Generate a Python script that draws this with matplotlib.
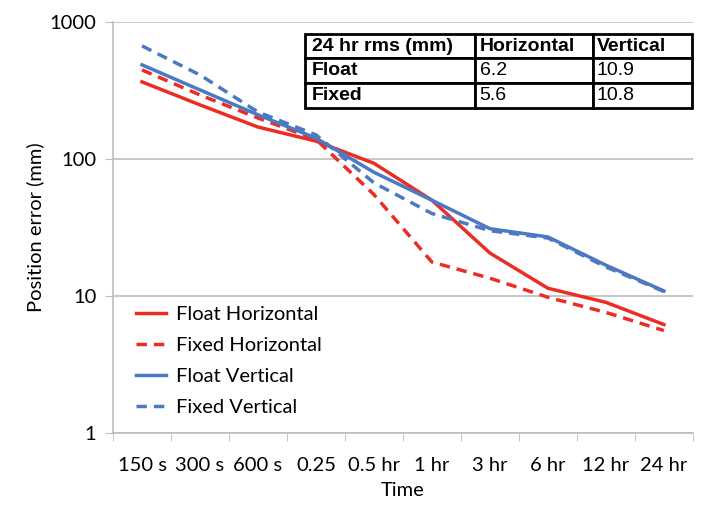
import numpy as np
import matplotlib
matplotlib.use("Agg")
import matplotlib.pyplot as plt

# ── data ──────────────────────────────────────────────
times = ["150 s", "300 s", "600 s", "0.25", "0.5 hr", "1 hr",
         "3 hr", "6 hr", "12 hr", "24 hr"]
float_h = [365, 248, 171, 135, 93, 50, 20.6, 11.4, 9.0, 6.2]
fixed_h = [446, 293, 199, 139, 55, 17.7, 13.5, 9.8, 7.6, 5.6]
float_v = [486, 319, 210, 142, 80, 50, 31, 27, 16.8, 10.9]
fixed_v = [668, 410, 220, 150, 67, 40, 30, 26.5, 16.3, 10.8]

table_rows = [["24 hr rms (mm)", "Horizontal", "Vertical"],
              ["Float", "6.2", "10.9"],
              ["Fixed", "5.6", "10.8"]]

RED = "#EC2D24"
BLUE = "#4C79C4"
GRID = "#BDBDBD"
FS = 14.5

plt.rcParams["font.family"] = ["Lato", "DejaVu Sans"]

fig = plt.figure(figsize=(7.02, 5.09), dpi=100)
ax = fig.add_axes([0.161, 0.149, 0.826, 0.808])

x = np.arange(len(times))
ax.plot(x, float_h, color=RED, lw=2.5, label="Float Horizontal")
ax.plot(x, fixed_h, color=RED, lw=2.5, ls=(0, (3, 2)), label="Fixed Horizontal")
ax.plot(x, float_v, color=BLUE, lw=2.5, label="Float Vertical")
ax.plot(x, fixed_v, color=BLUE, lw=2.5, ls=(0, (3, 2)), label="Fixed Vertical")

ax.set_yscale("log")
ax.set_ylim(1, 1000)
ax.set_xlim(-0.5, len(times) - 0.5)
ax.set_yticks([1, 10, 100, 1000])
ax.set_yticklabels(["1", "10", "100", "1000"], fontsize=FS)
ax.yaxis.set_minor_locator(matplotlib.ticker.NullLocator())
ax.tick_params(axis="y", length=6, color=GRID, pad=6)

ax.set_xticks(x)
ax.set_xticklabels(times, fontsize=FS)
ax.set_xticks(np.arange(-0.5, len(times)), minor=True)
ax.tick_params(axis="x", which="major", length=0, pad=17)
ax.tick_params(axis="x", which="minor", length=6, color=GRID)

ax.grid(True, axis="y", color=GRID, lw=1.2)
for s in ["top", "right"]:
    ax.spines[s].set_visible(False)
for s in ["left", "bottom"]:
    ax.spines[s].set_color(GRID)
    ax.spines[s].set_linewidth(1.2)

ax.set_xlabel("Time", fontsize=FS, labelpad=6)
ax.set_ylabel("Position error (mm)", fontsize=FS, labelpad=4)

ax.legend(loc="upper left", bbox_to_anchor=(0.025, 0.33), frameon=False,
          fontsize=FS, handlelength=1.5, handletextpad=0.5,
          labelspacing=0.7, borderaxespad=0.0)

tbl = ax.table(cellText=table_rows, cellLoc="left",
               colWidths=[170, 118, 99],
               bbox=[0.331, 0.791, 0.667, 0.18])
tbl.auto_set_font_size(False)
for (r, c), cell in tbl.get_celld().items():
    cell.set_linewidth(2)
    cell.set_edgecolor("black")
    cell.PAD = 0.04
    txt = cell.get_text()
    txt.set_fontfamily("Liberation Sans")
    txt.set_fontsize(14)
    if r == 0 or c == 0:
        txt.set_fontweight("bold")

fig.savefig("out.png", dpi=100)
